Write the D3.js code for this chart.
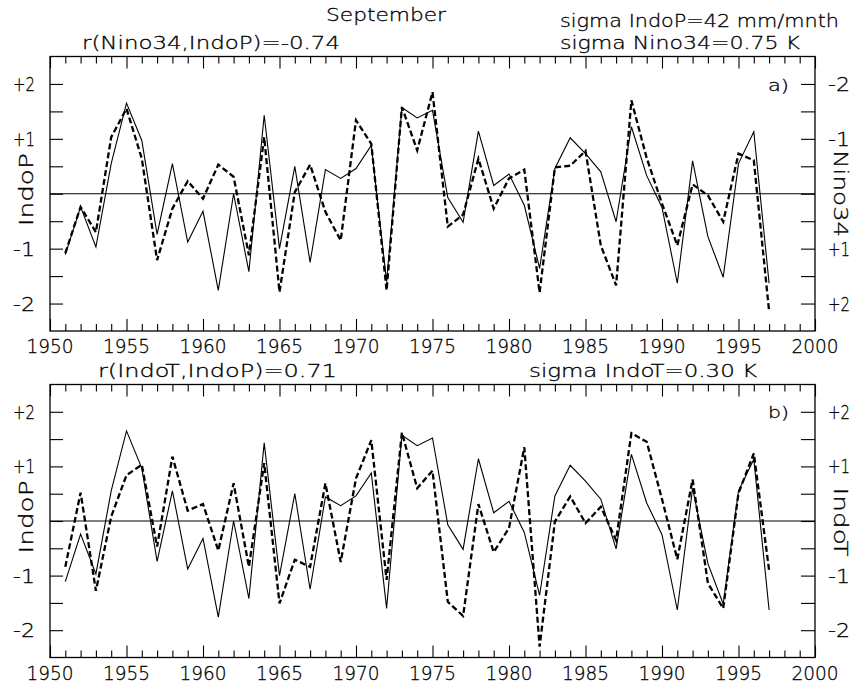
<!DOCTYPE html>
<html><head><meta charset="utf-8">
<script src="https://cdn.jsdelivr.net/npm/d3@7"></script>
<style>body{margin:0;background:#fff} svg{display:block} text{font-family:"DejaVu Sans",sans-serif;font-weight:200;fill:#000;stroke:#000;stroke-width:0.3}</style>
</head><body><svg id="c" width="855" height="683"></svg>
<script>
const years=[1951,1952,1953,1954,1955,1956,1957,1958,1959,1960,1961,1962,1963,1964,1965,1966,1967,1968,1969,1970,1971,1972,1973,1974,1975,1976,1977,1978,1979,1980,1981,1982,1983,1984,1985,1986,1987,1988,1989,1990,1991,1992,1993,1994,1995,1996,1997];
const indoP=[-1.11,-0.24,-0.97,0.55,1.65,0.97,-0.74,0.55,-0.88,-0.32,-1.76,0.0,-1.42,1.43,-1.0,0.50,-1.25,0.44,0.28,0.46,0.88,-1.60,1.57,1.38,1.52,-0.07,-0.52,1.14,0.15,0.36,-0.21,-1.36,0.46,1.02,0.73,0.40,-0.51,1.22,0.33,-0.25,-1.63,0.60,-0.78,-1.52,0.55,1.13,-1.63];
const nino34=[1.08,0.24,0.70,-1.03,-1.55,-0.64,1.21,0.27,-0.23,0.09,-0.53,-0.31,1.12,-1.03,1.79,-0.03,-0.53,0.33,0.85,-1.34,-0.91,1.76,-1.58,-0.79,-1.85,0.60,0.38,-0.64,0.27,-0.28,-0.44,1.80,-0.48,-0.51,-0.78,0.94,1.67,-1.70,-0.65,0.18,0.94,-0.17,0.03,0.51,-0.73,-0.61,2.14];
const indoT=[-0.84,0.52,-1.28,0.08,0.84,1.03,-0.47,1.18,0.19,0.31,-0.54,0.69,-0.84,1.06,-1.51,-0.71,-0.84,0.69,-0.75,0.78,1.48,-1.08,1.62,0.60,0.92,-1.48,-1.74,0.31,-0.57,-0.13,1.35,-2.30,-0.01,0.45,-0.04,0.26,-0.35,1.61,1.45,0.40,-0.70,0.76,-1.14,-1.60,0.51,1.24,-0.90];
const yearTickLabels=[1950,1955,1960,1965,1970,1975,1980,1985,1990,1995,2000];
const valueTickLabels=[-2,-1,1,2];
const valueTicks=[-2,-1.5,-1,-0.5,0,0.5,1,1.5,2];

const svg=d3.select("#c");
const X0=50,X1=815;
const x=d3.scaleLinear().domain([1950,2000]).range([X0,X1]);
const fmt=v=>(v>0?"+":"-")+Math.abs(v);

function txt(g,s,xx,yy,size,len,anchor){
  const t=g.append("text").attr("x",xx).attr("y",yy).attr("font-size",size)
    .attr("text-anchor",anchor||"start").text(s);
  if(len) t.attr("textLength",len).attr("lengthAdjust","spacingAndGlyphs");
  return t;
}

function panel(o){
  const g=svg.append("g");
  const y=d3.scaleLinear().domain([-2.5,2.5]).range([o.bottom,o.top]);
  const y2=d3.scaleLinear().domain(o.rightInverted?[2.5,-2.5]:[-2.5,2.5]).range([o.bottom,o.top]);
  g.append("rect").attr("x",X0).attr("y",o.top).attr("width",X1-X0).attr("height",o.bottom-o.top)
    .attr("fill","none").attr("stroke","#000").attr("stroke-width",1.3);
  g.append("line").attr("x1",X0).attr("x2",X1).attr("y1",y(0)).attr("y2",y(0))
    .attr("stroke","#000").attr("stroke-width",1);
  const yrs=d3.range(1950,2001);
  const ga=g.append("g").attr("transform",`translate(0,${o.bottom})`).call(d3.axisBottom(x).tickValues(yrs).tickFormat("").tickSizeOuter(0).tickSizeInner(-7));
  const gt=g.append("g").attr("transform",`translate(0,${o.top})`).call(d3.axisTop(x).tickValues(yrs).tickFormat("").tickSizeOuter(0).tickSizeInner(-7));
  [ga,gt].forEach(s=>{s.select(".domain").remove();
    s.selectAll(".tick line").attr("stroke-width",1.1).filter(d=>d%5===0).attr("y2",s===ga?-12:12);});
  yearTickLabels.forEach(v=>txt(g,String(v),x(v),o.bottom+22,19,47,"middle"));
  const gl=g.append("g").attr("transform",`translate(${X0},0)`).call(d3.axisLeft(y).tickValues(valueTicks).tickFormat("").tickSizeOuter(0).tickSizeInner(-13));
  const gr=g.append("g").attr("transform",`translate(${X1},0)`).call(d3.axisRight(y2).tickValues(valueTicks).tickFormat("").tickSizeOuter(0).tickSizeInner(-14));
  [gl,gr].forEach(s=>{s.select(".domain").remove();s.selectAll(".tick line").attr("stroke-width",1.1);});
  valueTickLabels.forEach(v=>{
    txt(g,fmt(v),35,y(v)+7,19,22,"end");
    txt(g,fmt(v),828,y2(v)+7,19,22,"start");
  });
  g.append("text").attr("transform",`translate(33,${y(0)-4}) rotate(-90)`).attr("font-size",19)
    .attr("text-anchor","middle").attr("textLength",73).attr("lengthAdjust","spacingAndGlyphs").text("IndoP");
  g.append("text").attr("transform",`translate(834,${y(0)+o.rtShift}) rotate(90)`).attr("font-size",19)
    .attr("text-anchor","middle").attr("textLength",o.rtLen).attr("lengthAdjust","spacingAndGlyphs").text(o.rightTitle);
  txt(g,o.tag,768,y(2)+o.tagDy,16,21,"start");
  const line=d3.line().x((d,i)=>x(years[i]));
  g.append("path").datum(indoP).attr("fill","none").attr("stroke","#000").attr("stroke-width",1.1)
    .attr("d",line.y(d=>y(d)));
  g.append("path").datum(o.dashed).attr("fill","none").attr("stroke","#000").attr("stroke-width",2.3)
    .attr("stroke-dasharray","6,3").attr("d",d3.line().x((d,i)=>x(years[i])).y(d=>y2(d)));
  return g;
}

panel({top:56.5,bottom:331,dashed:nino34,rightInverted:true,rightTitle:"Nino34",rtLen:87,rtShift:0,tag:"a)",tagDy:7});
panel({top:384.5,bottom:657.5,dashed:indoT,rightInverted:false,rightTitle:"IndoT",rtLen:69,rtShift:1,tag:"b)",tagDy:6});

txt(svg,"September",386,21,18,120,"middle");
txt(svg,"sigma IndoP=42 mm/mnth",560,27,18,279,"start");
txt(svg,"r(Nino34,IndoP)=-0.74",82,49,18,258,"start");
txt(svg,"sigma Nino34=0.75 K",560,49,18,240,"start");
txt(svg,"r(IndoT,IndoP)=0.71",98,377,18,239,"start");
txt(svg,"sigma IndoT=0.30 K",529,377,18,228,"start");
</script></body></html>
